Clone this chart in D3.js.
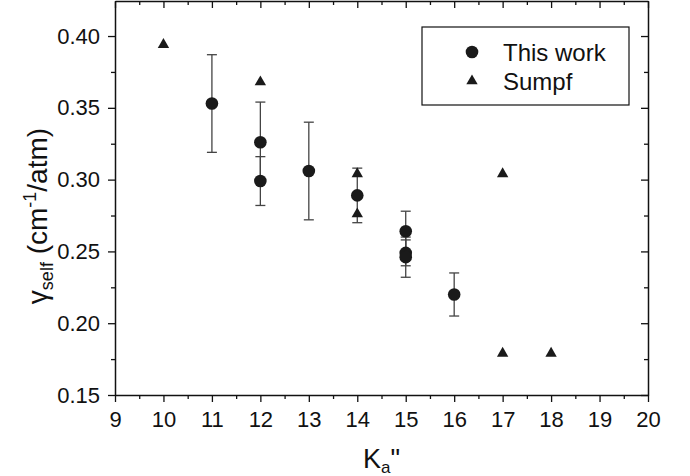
<!DOCTYPE html>
<html>
<head>
<meta charset="utf-8">
<script src="https://cdn.jsdelivr.net/npm/d3@7"></script>
<style>
  html, body { margin: 0; padding: 0; background: #fff; }
  svg { display: block; }
  text { font-family: "Liberation Sans", Arial, Helvetica, sans-serif; fill: #111; }
</style>
</head>
<body>
<svg id="chart" width="690" height="476"></svg>
<script>
// ---- data ----
const workX = [11, 12, 12, 13, 14, 15, 15, 15, 16];
const workY = [0.353, 0.326, 0.299, 0.306, 0.289, 0.264, 0.249, 0.246, 0.220];
const workLo = [0.319, 0.298, 0.282, 0.272, 0.270, 0.250, 0.240, 0.232, 0.205];
const workHi = [0.387, 0.354, 0.316, 0.340, 0.308, 0.278, 0.258, 0.260, 0.235];

const sumpfX = [10, 12, 14, 14, 17, 17, 18];
const sumpfY = [0.394, 0.368, 0.304, 0.276, 0.304, 0.179, 0.179];

const xTicks = [9, 10, 11, 12, 13, 14, 15, 16, 17, 18, 19, 20];
const yTicks = [0.15, 0.20, 0.25, 0.30, 0.35, 0.40];
const seriesNames = ["This work", "Sumpf"];

// ---- layout ----
const mLeft = 115, mRight = 648, mTop = 1, mBottom = 395;
const svg = d3.select("#chart");

const x = d3.scaleLinear().domain([9, 20]).range([mLeft, mRight]);
const y = d3.scaleLinear().domain([0.15, 0.4244]).range([mBottom, mTop]);

const xMinor = d3.range(9.5, 20, 1);
const yMinor = d3.range(0.175, 0.42, 0.05);

function styleAxis(g) {
  g.selectAll("path.domain").attr("stroke", "#111").attr("stroke-width", 1.5);
  g.selectAll(".tick line").attr("stroke", "#111").attr("stroke-width", 1.3);
}

// bottom axis
const gB = svg.append("g").attr("transform", `translate(0,${mBottom})`)
  .call(d3.axisBottom(x).tickValues(xTicks).tickFormat(d3.format("d"))
    .tickSizeInner(7).tickSizeOuter(0).tickPadding(9));
gB.selectAll("text").attr("font-size", 22);
svg.append("g").attr("transform", `translate(0,${mBottom})`)
  .call(d3.axisBottom(x).tickValues(xMinor).tickFormat("").tickSizeInner(4).tickSizeOuter(0))
  .call(g => g.select("path.domain").remove()).call(styleAxis);
styleAxis(gB);

// top axis (inward ticks)
const gT = svg.append("g").attr("transform", `translate(0,${mTop})`)
  .call(d3.axisBottom(x).tickValues(xTicks).tickFormat("").tickSizeInner(7).tickSizeOuter(0));
svg.append("g").attr("transform", `translate(0,${mTop})`)
  .call(d3.axisBottom(x).tickValues(xMinor).tickFormat("").tickSizeInner(4).tickSizeOuter(0))
  .call(g => g.select("path.domain").remove()).call(styleAxis);
styleAxis(gT);

// left axis
const gL = svg.append("g").attr("transform", `translate(${mLeft},0)`)
  .call(d3.axisLeft(y).tickValues(yTicks).tickFormat(d3.format(".2f"))
    .tickSizeInner(7).tickSizeOuter(0).tickPadding(8));
gL.selectAll("text").attr("font-size", 22);
svg.append("g").attr("transform", `translate(${mLeft},0)`)
  .call(d3.axisLeft(y).tickValues(yMinor).tickFormat("").tickSizeInner(4).tickSizeOuter(0))
  .call(g => g.select("path.domain").remove()).call(styleAxis);
styleAxis(gL);

// right axis (inward ticks)
const gR = svg.append("g").attr("transform", `translate(${mRight},0)`)
  .call(d3.axisLeft(y).tickValues(yTicks).tickFormat("").tickSizeInner(7).tickSizeOuter(0));
svg.append("g").attr("transform", `translate(${mRight},0)`)
  .call(d3.axisLeft(y).tickValues(yMinor).tickFormat("").tickSizeInner(4).tickSizeOuter(0))
  .call(g => g.select("path.domain").remove()).call(styleAxis);
styleAxis(gR);

// ---- error bars ----
const work = workX.map((d, i) => ({x: d, y: workY[i], lo: workLo[i], hi: workHi[i]}));
const eb = svg.append("g").attr("stroke", "#444").attr("stroke-width", 1.3);
work.forEach(d => {
  eb.append("line").attr("x1", x(d.x)).attr("x2", x(d.x)).attr("y1", y(d.lo)).attr("y2", y(d.hi));
  eb.append("line").attr("x1", x(d.x) - 5).attr("x2", x(d.x) + 5).attr("y1", y(d.lo)).attr("y2", y(d.lo));
  eb.append("line").attr("x1", x(d.x) - 5).attr("x2", x(d.x) + 5).attr("y1", y(d.hi)).attr("y2", y(d.hi));
});

// ---- markers ----
const tri = d3.symbol().type(d3.symbolTriangle).size(56);
svg.append("g").selectAll("path").data(sumpfX.map((d, i) => ({x: d, y: sumpfY[i]})))
  .join("path").attr("d", tri)
  .attr("transform", d => `translate(${x(d.x)},${y(d.y)})`)
  .attr("fill", "#1a1a1a");

svg.append("g").selectAll("circle").data(work).join("circle")
  .attr("cx", d => x(d.x)).attr("cy", d => y(d.y)).attr("r", 6.3)
  .attr("fill", "#1a1a1a");

// ---- legend ----
const lg = svg.append("g");
lg.append("rect").attr("x", 422).attr("y", 27).attr("width", 207).attr("height", 78)
  .attr("fill", "#fff").attr("stroke", "#111").attr("stroke-width", 1.2);
lg.append("circle").attr("cx", 472).attr("cy", 52).attr("r", 6.3).attr("fill", "#1a1a1a");
lg.append("path").attr("d", tri).attr("transform", "translate(472,81)").attr("fill", "#1a1a1a");
lg.append("text").attr("x", 503).attr("y", 60.5).attr("font-size", 24).text(seriesNames[0]);
lg.append("text").attr("x", 503).attr("y", 89.5).attr("font-size", 24).text(seriesNames[1]);

// ---- axis titles ----
const xt = svg.append("text").attr("x", (mLeft + mRight) / 2).attr("y", 468)
  .attr("text-anchor", "middle").attr("font-size", 27);
xt.append("tspan").text("K");
xt.append("tspan").attr("font-size", 17).attr("dy", 5).text("a");
xt.append("tspan").attr("dy", -5).text("\"");

const yt = svg.append("text").attr("transform", "translate(47,216) rotate(-90)")
  .attr("text-anchor", "middle").attr("font-size", 28);
yt.append("tspan").text("γ");
yt.append("tspan").attr("font-size", 18).attr("dy", 6).text("self");
yt.append("tspan").attr("dy", -6).text(" (cm");
yt.append("tspan").attr("font-size", 18).attr("dy", -11).text("-1");
yt.append("tspan").attr("dy", 11).text("/atm)");
</script>
</body>
</html>
